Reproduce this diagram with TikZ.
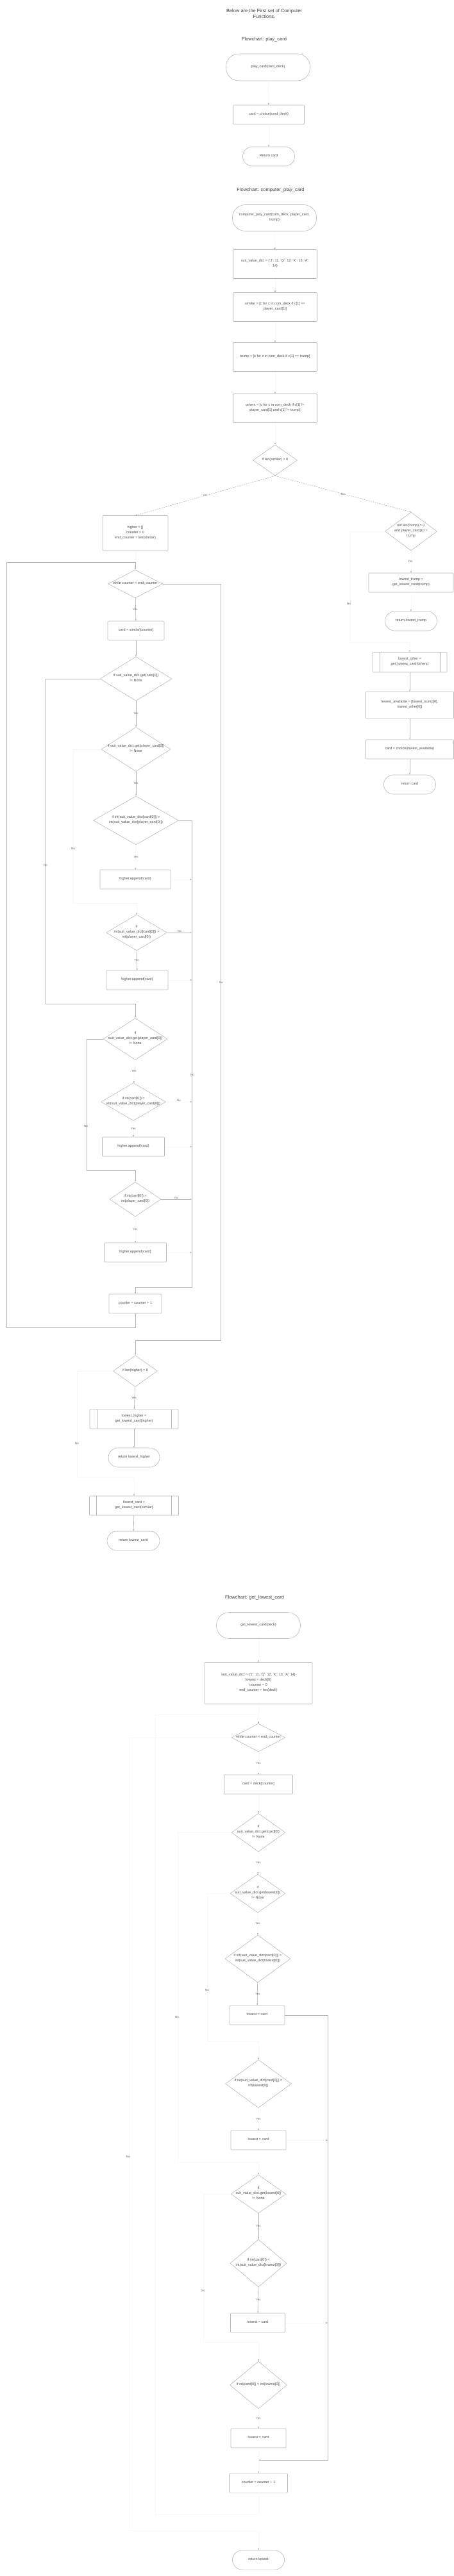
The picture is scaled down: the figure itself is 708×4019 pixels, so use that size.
\documentclass[tikz,border=0pt]{standalone}
\usepackage{fontspec}
\setmainfont{Liberation Sans}
\usetikzlibrary{shapes.geometric,arrows.meta}

% text that does not widen the shape it sits in
\newcommand\flowtxt[1]{\smash{\makebox[0pt]{\begin{tabular}{@{}c@{}}#1\end{tabular}}}}

\begin{document}
\begin{tikzpicture}[x=1pt,y=-1pt,
  box/.style={draw=gray!55, line width=0.6pt, inner sep=0pt,
    font=\fontsize{5.5}{8}\selectfont, text=black!70},
  sz/.style 2 args={minimum width=#1pt, minimum height=#2pt},
  proc/.style={box, rectangle, rounded corners=1pt},
  term/.style={box, rectangle, rounded corners=15pt},
  bigterm/.style={box, rectangle, rounded corners=20pt},
  decide/.style={box, diamond},
  pred/.style={proc, path picture={
    \draw[gray!55, line width=0.6pt]
      ([xshift=11pt]path picture bounding box.north west) -- ([xshift=11pt]path picture bounding box.south west)
      ([xshift=-11pt]path picture bounding box.north east) -- ([xshift=-11pt]path picture bounding box.south east);}},
  title/.style={font=\fontsize{7.5}{9}\selectfont, text=black!75, align=center},
  lbl/.style={font=\fontsize{4.5}{5}\selectfont, text=black!60, inner sep=0.5pt},
  link/.style={draw=gray!60, line width=0.6pt, -{Stealth[length=3pt,width=2.4pt]}},
  faint/.style={draw=gray!6, line width=0.6pt, -{Stealth[length=3pt,width=2.4pt,color=gray!70]}},
  dlink/.style={link, dash pattern=on 2pt off 1.5pt},
  ]

\fill[white] (0,0) rectangle (708,4019);
\useasboundingbox (0,0) rectangle (708,4019);

%% titles
\node[title] (t0) at (412,21) {Below are the First set of Computer\\Functions.};
\node[title] (h1) at (412,62) {Flowchart: play\_card};
\node[title] (h2) at (422,297) {Flowchart: computer\_play\_card};
\node[title] (h3) at (397,2493) {Flowchart: get\_lowest\_card};

%% play_card
\node[bigterm, sz={131}{42}] (p1) at (418,105) {\flowtxt{play\_card(card\_deck)}};
\node[proc, sz={111}{30}] (p2) at (419,179) {\flowtxt{card = choice(card\_deck)}};
\node[term, sz={81}{30}] (p3) at (419,244) {\flowtxt{Return card}};
\draw[faint] (p1) -- (p2);
\draw[faint] (p2) -- (p3);

%% computer_play_card
\node[bigterm, sz={131}{41}] (c1) at (428,340) {\flowtxt{computer\_play\_card(com\_deck, player\_card,\\trump)}};
\node[proc, sz={131}{45}] (c2) at (429,412) {\flowtxt{suit\_value\_dict = \{'J': 11, 'Q': 12, 'K': 13, 'A':\\14\}}};
\node[proc, sz={131}{45}] (c3) at (429,479) {\flowtxt{similar = [c for c in com\_deck if c[1] ==\\player\_card[1]]}};
\node[proc, sz={131}{45}] (c4) at (429,557) {\flowtxt{trump = [c for c in com\_deck if c[1] == trump]}};
\node[proc, sz={131}{45}] (c5) at (429,637) {\flowtxt{others = [c for c in com\_deck if c[1] !=\\player\_card[1] and c[1] != trump]}};
\node[decide, sz={69}{48}] (c6) at (429,718) {\flowtxt{if len(similar) \textgreater{} 0}};
\node[proc, sz={102}{55}] (c7) at (211,832) {\flowtxt{higher = []\\counter = 0\\end\_counter = len(similar)}};
\node[decide, sz={81}{60}] (c8) at (641,829) {\flowtxt{elif len(trump) \textgreater{} 0\\and player\_card[1] !=\\trump}};
\node[proc, sz={132}{30}] (c9) at (641,909) {\flowtxt{lowest\_trump =\\get\_lowest\_card(trump)}};
\node[term, sz={81}{30}] (c10) at (641,969) {\flowtxt{return lowest\_trump}};
\node[pred, sz={116}{31}] (c11) at (639,1033) {\flowtxt{lowest\_other =\\get\_lowest\_card(others)}};
\node[proc, sz={137}{42}] (c12) at (639,1100) {\flowtxt{lowest\_available = [lowest\_trump[0],\\lowest\_other[0]]}};
\node[proc, sz={137}{30}] (c13) at (639,1169) {\flowtxt{card = choice(lowest\_available)}};
\node[term, sz={81}{30}] (c14) at (639,1224) {\flowtxt{return card}};
\node[decide, sz={85}{44}] (c15) at (211,911) {\flowtxt{while counter \textless{} end\_counter}};
\node[proc, sz={88}{30}] (c16) at (212,984) {\flowtxt{card = similar[counter]}};
\node[decide, sz={112}{69}] (c17) at (212,1059) {\flowtxt{if suit\_value\_dict.get(card[0])\\!= None}};
\node[decide, sz={108}{69}] (c18) at (212,1169) {\flowtxt{if suit\_value\_dict.get(player\_card[0])\\!= None}};
\node[decide, sz={133}{76}] (c19) at (212,1280) {\flowtxt{if int(suit\_value\_dict[card[0]]) \textgreater\\int(suit\_value\_dict[player\_card[0]])}};
\node[proc, sz={110}{30}] (c20) at (211,1372) {\flowtxt{higher.append(card)}};
\node[decide, sz={95}{56}] (c21) at (213,1455) {\flowtxt{if\\int(suit\_value\_dict[card[0]]) \textgreater\\int(player\_card[0])}};
\node[proc, sz={96}{30}] (c22) at (214,1529) {\flowtxt{higher.append(card)}};
\node[decide, sz={100}{65}] (c23) at (211,1621) {\flowtxt{if\\suit\_value\_dict.get(player\_card[0])\\!= None}};
\node[decide, sz={101}{59}] (c24) at (208,1719) {\flowtxt{if int(card[0]) \textgreater\\int(suit\_value\_dict[player\_card[0]])}};
\node[proc, sz={97}{30}] (c25) at (208,1789) {\flowtxt{higher.append(card)}};
\node[decide, sz={80}{54}] (c26) at (211,1871) {\flowtxt{if int(card[0]) \textgreater\\int(player\_card[0])}};
\node[proc, sz={97}{30}] (c27) at (211,1954) {\flowtxt{higher.append(card)}};
\node[proc, sz={82}{30}] (c28) at (211,2034) {\flowtxt{counter = counter + 1}};
\node[decide, sz={69}{49}] (c29) at (211,2139) {\flowtxt{if len(higher) \textgreater{} 0}};
\node[pred, sz={138}{30}] (c30) at (209,2214) {\flowtxt{lowest\_higher =\\get\_lowest\_card(higher)}};
\node[term, sz={80}{30}] (c31) at (209,2274) {\flowtxt{return lowest\_higher}};
\node[pred, sz={139}{30}] (c32) at (209,2349) {\flowtxt{lowest\_card =\\get\_lowest\_card(similar)}};
\node[term, sz={82}{30}] (c33) at (208,2404) {\flowtxt{return lowest\_card}};

\draw[faint] (c1) -- (c2);
\draw[faint] (c2) -- (c3);
\draw[faint] (c3) -- (c4);
\draw[faint] (c4) -- (c5);
\draw[faint] (c5) -- (c6);
\draw[dlink] (c6.south) -- node[lbl, fill=white] {Yes} (c7.north);
\draw[dlink] (c6.south) -- node[lbl, fill=white] {No} (c8.north);
\draw[faint] (c8.west) -- (546,829) -- (546,1002) -| (c11.north);
\node[lbl] at (544,942) {No};
\draw[faint] (c8) -- (c9);
\node[lbl] at (640,876) {Yes};
\draw[faint] (c9) -- (c10);
\draw[link] (c11) -- (c12);
\draw[link] (c12) -- (c13);
\draw[link] (c13) -- (c14);
\draw[faint] (c7) -- (c15);
\draw[link] (c15.east) -- (344,911) -- (344,2091) -| (c29.north);
\node[lbl] at (345,1533) {No};
\draw[link] (c15) -- (c16);
\node[lbl] at (211,951) {Yes};
\draw[link] (c16) -- (c17);
\draw[link] (c17.west) -| (71,1566) -| (c23.north);
\node[lbl] at (71,1350) {No};
\draw[link] (c17) -- (c18);
\node[lbl] at (212,1113) {Yes};
\draw[faint] (c18.west) -| (114,1409) -| (c21.north);
\node[lbl] at (114,1324) {No};
\draw[link] (c18) -- (c19);
\node[lbl] at (212,1222) {Yes};
\draw[link] (c19.east) -| (299,2008) -| (c28.north);
\node[lbl] at (300,1677) {No};
\draw[faint] (c19) -- (c20);
\node[lbl] at (212,1337) {Yes};
\draw[faint] (c20.east) -- (299,1372);
\draw[link] (c21.east) -- node[lbl, above] {No} (299,1455);
\draw[link] (c21) -- (c22);
\node[lbl] at (213,1498) {Yes};
\draw[faint] (c22.east) -- (299,1529);
\draw[link] (c23.west) -| (135,1826) -| (c26.north);
\node[lbl] at (134,1757) {No};
\draw[faint] (c23) -- (c24);
\node[lbl] at (209,1671) {Yes};
\draw[faint] (c24.east) -- node[lbl, above] {No} (299,1719);
\draw[faint] (c24) -- (c25);
\node[lbl] at (208,1761) {Yes};
\draw[faint] (c25.east) -- (299,1789);
\draw[link] (c26.east) -- node[lbl, above] {No} (299,1871);
\draw[faint] (c26) -- (c27);
\node[lbl] at (211,1918) {Yes};
\draw[faint] (c27.east) -- (299,1954);
\draw[link] (c28.south) -- (211,2071) -| (10,877) -| (c15.north);
\draw[faint] (c29.west) -| (120,2304) -| (c32.north);
\node[lbl] at (120,2252) {No};
\draw[link] (c29) -- (c30);
\node[lbl] at (209,2181) {Yes};
\draw[link] (c30) -- (c31);
\draw[link] (c32) -- (c33);

%% get_lowest_card
\node[bigterm, sz={131}{41}] (g1) at (403,2536) {\flowtxt{get\_lowest\_card(deck)}};
\node[proc, sz={168}{65}] (g2) at (403,2626) {\flowtxt{suit\_value\_dict = \{'J': 11, 'Q': 12, 'K': 13, 'A': 14\}\\lowest = deck[0]\\counter = 0\\end\_counter = len(deck)}};
\node[decide, sz={84}{44}] (g3) at (403,2711) {\flowtxt{while counter \textless{} end\_counter}};
\node[proc, sz={107}{30}] (g4) at (403,2784) {\flowtxt{card = deck[counter]}};
\node[decide, sz={84}{60}] (g5) at (403,2859) {\flowtxt{if\\suit\_value\_dict.get(card[0])\\!= None}};
\node[decide, sz={86}{60}] (g6) at (402,2954) {\flowtxt{if\\suit\_value\_dict.get(lowest[0])\\!= None}};
\node[decide, sz={102}{74}] (g7) at (402,3056) {\flowtxt{if int(suit\_value\_dict[card[0]]) \textless\\int(suit\_value\_dict[lowest[0]])}};
\node[proc, sz={86}{30}] (g8) at (401,3144) {\flowtxt{lowest = card}};
\node[decide, sz={103}{75}] (g9) at (403,3251) {\flowtxt{if int(suit\_value\_dict[card[0]]) \textless\\int(lowest[0])}};
\node[proc, sz={86}{30}] (g10) at (403,3339) {\flowtxt{lowest = card}};
\node[decide, sz={86}{60}] (g11) at (403,3423) {\flowtxt{if\\suit\_value\_dict.get(lowest[0])\\!= None}};
\node[decide, sz={88}{74}] (g12) at (403,3531) {\flowtxt{if int(card[0]) \textless\\int(suit\_value\_dict[lowest[0]])}};
\node[proc, sz={85}{30}] (g13) at (402,3624) {\flowtxt{lowest = card}};
\node[decide, sz={89}{74}] (g14) at (403,3721) {\flowtxt{if int(card[0]) \textless{} int(lowest[0])}};
\node[proc, sz={86}{30}] (g15) at (403,3804) {\flowtxt{lowest = card}};
\node[proc, sz={91}{30}] (g16) at (403,3874) {\flowtxt{counter = counter + 1}};
\node[term, sz={81}{30}] (g17) at (403,3994) {\flowtxt{return lowest}};
\coordinate (merge) at (403,3838);

\draw[faint] (g1) -- (g2);
\draw[faint] (g2) -- (g3);
\draw[faint] (g3.west) -| (201,3948) -| (g17.north);
\node[lbl] at (200,3365) {No};
\draw[faint] (g3) -- (g4);
\node[lbl] at (403,2751) {Yes};
\draw[faint] (g4) -- (g5);
\draw[faint] (g5.west) -| (277,3373) -| (g11.north);
\node[lbl] at (276,3147) {No};
\draw[faint] (g5) -- (g6);
\node[lbl] at (403,2906) {Yes};
\draw[faint] (g6.west) -| (323,3184) -| (g9.north);
\node[lbl] at (323,3105) {No};
\draw[faint] (g6) -- (g7);
\node[lbl] at (402,3001) {Yes};
\draw[link] (g7) -- (g8);
\node[lbl] at (402,3111) {Yes};
\draw[link] (g8.east) -| (511,3838) -- (merge);
\draw[faint] (g9) -- (g10);
\node[lbl] at (403,3306) {Yes};
\draw[faint] (g10.east) -- (511,3339);
\draw[faint] (g11.west) -| (317,3654) -| (g14.north);
\node[lbl] at (317,3574) {No};
\draw[link] (g11) -- (g12);
\node[lbl] at (403,3473) {Yes};
\draw[link] (g12) -- (g13);
\node[lbl] at (403,3588) {Yes};
\draw[faint] (g13.east) -- (511,3624);
\draw[faint] (g14) -- (g15);
\node[lbl] at (403,3773) {Yes};
\draw[faint] (g15) -- (g16);
\draw[faint] (g16.south) -- (403,3923) -| (242,2675) -| (g3.north);

\end{tikzpicture}
\end{document}
